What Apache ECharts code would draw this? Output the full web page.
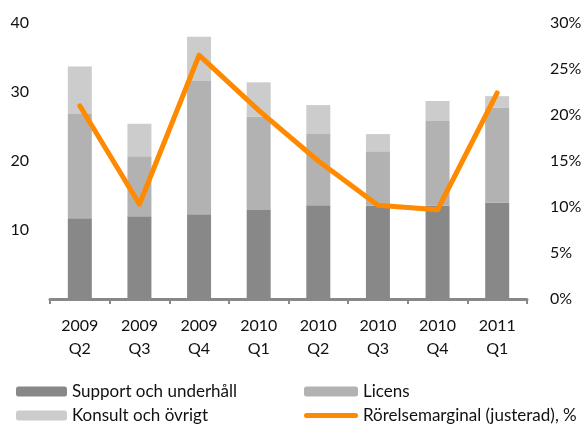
<!DOCTYPE html>
<html><head><meta charset="utf-8">
<script src="https://cdn.jsdelivr.net/npm/echarts@6/dist/echarts.min.js"></script>
<style>html,body{margin:0;padding:0;background:#fff}#c{width:587px;height:427px}</style>
</head><body><div id="c"></div>
<script>
const categories = ['2009\nQ2','2009\nQ3','2009\nQ4','2010\nQ1','2010\nQ2','2010\nQ3','2010\nQ4','2011\nQ1'];
const support = [11.7, 12.0, 12.3, 12.9, 13.6, 13.5, 13.5, 14.0];
const licens = [15.1, 8.7, 19.3, 13.5, 10.3, 7.9, 12.3, 13.7];
const konsult = [6.9, 4.7, 6.4, 5.0, 4.2, 2.5, 2.9, 1.7];
const margin = [21.0, 10.3, 26.5, 20.5, 15.0, 10.2, 9.7, 22.4];
const leftTicks = [0, 10, 20, 30, 40];
const rightTicks = [0, 5, 10, 15, 20, 25, 30];
const seriesNames = ['Support och underhåll', 'Licens', 'Konsult och övrigt', 'Rörelsemarginal (justerad), %'];

const font = 'Lato, "Open Sans", sans-serif';
const legendBase = {orient: 'horizontal', padding: 0, itemHeight: 10,
  textStyle: {fontSize: 17, color: '#111', fontFamily: font}};
const linePath = 'path://M2.5,0 L51.5,0 A2.5,2.5 0 0 1 51.5,5 L2.5,5 A2.5,2.5 0 0 1 2.5,0 Z';
const chart = echarts.init(document.getElementById('c'));
chart.setOption({
  animation: false,
  textStyle: {fontFamily: font},
  grid: {left: 50, right: 60, top: 23, bottom: 128},
  legend: [
    Object.assign({left: 16, top: 383, itemWidth: 51, data: [seriesNames[0]]}, legendBase),
    Object.assign({left: 304, top: 383, itemWidth: 54, data: [seriesNames[1]]}, legendBase),
    Object.assign({left: 16, top: 407, itemWidth: 51, data: [seriesNames[2]]}, legendBase),
    Object.assign({left: 304, top: 407, itemWidth: 54, itemHeight: 5, data: [{name: seriesNames[3], icon: linePath}]}, legendBase)
  ],
  xAxis: {
    type: 'category', data: categories,
    axisLine: {lineStyle: {color: '#888', width: 3}},
    axisTick: {show: true, length: 5, lineStyle: {color: '#888', width: 2}},
    axisLabel: {fontSize: 16, color: '#111', lineHeight: 23, margin: 15, fontFamily: font}
  },
  yAxis: [
    {type: 'value', min: leftTicks[0], max: leftTicks[leftTicks.length-1], interval: 10,
     splitLine: {show: false}, axisLine: {show: false}, axisTick: {show: false},
     axisLabel: {fontSize: 16, color: '#111', margin: 21, fontFamily: font,
       formatter: v => v === 0 ? '' : String(v)}},
    {type: 'value', min: rightTicks[0], max: rightTicks[rightTicks.length-1], interval: 5,
     splitLine: {show: false}, axisLine: {show: false}, axisTick: {show: false},
     axisLabel: {fontSize: 16, color: '#111', margin: 23, fontFamily: font, formatter: '{value}%'}}
  ],
  series: [
    {name: seriesNames[0], type: 'bar', stack: 's', data: support, barWidth: 24, itemStyle: {color: '#888888'}},
    {name: seriesNames[1], type: 'bar', stack: 's', data: licens, barWidth: 24, itemStyle: {color: '#b2b2b2'}},
    {name: seriesNames[2], type: 'bar', stack: 's', data: konsult, barWidth: 24, itemStyle: {color: '#cccccc'}},
    {name: seriesNames[3], type: 'line', yAxisIndex: 1, data: margin,
     symbol: 'none', itemStyle: {color: '#ff8a00'},
     lineStyle: {color: '#ff8a00', width: 5, cap: 'round', join: 'round'}}
  ]
});
</script></body></html>
